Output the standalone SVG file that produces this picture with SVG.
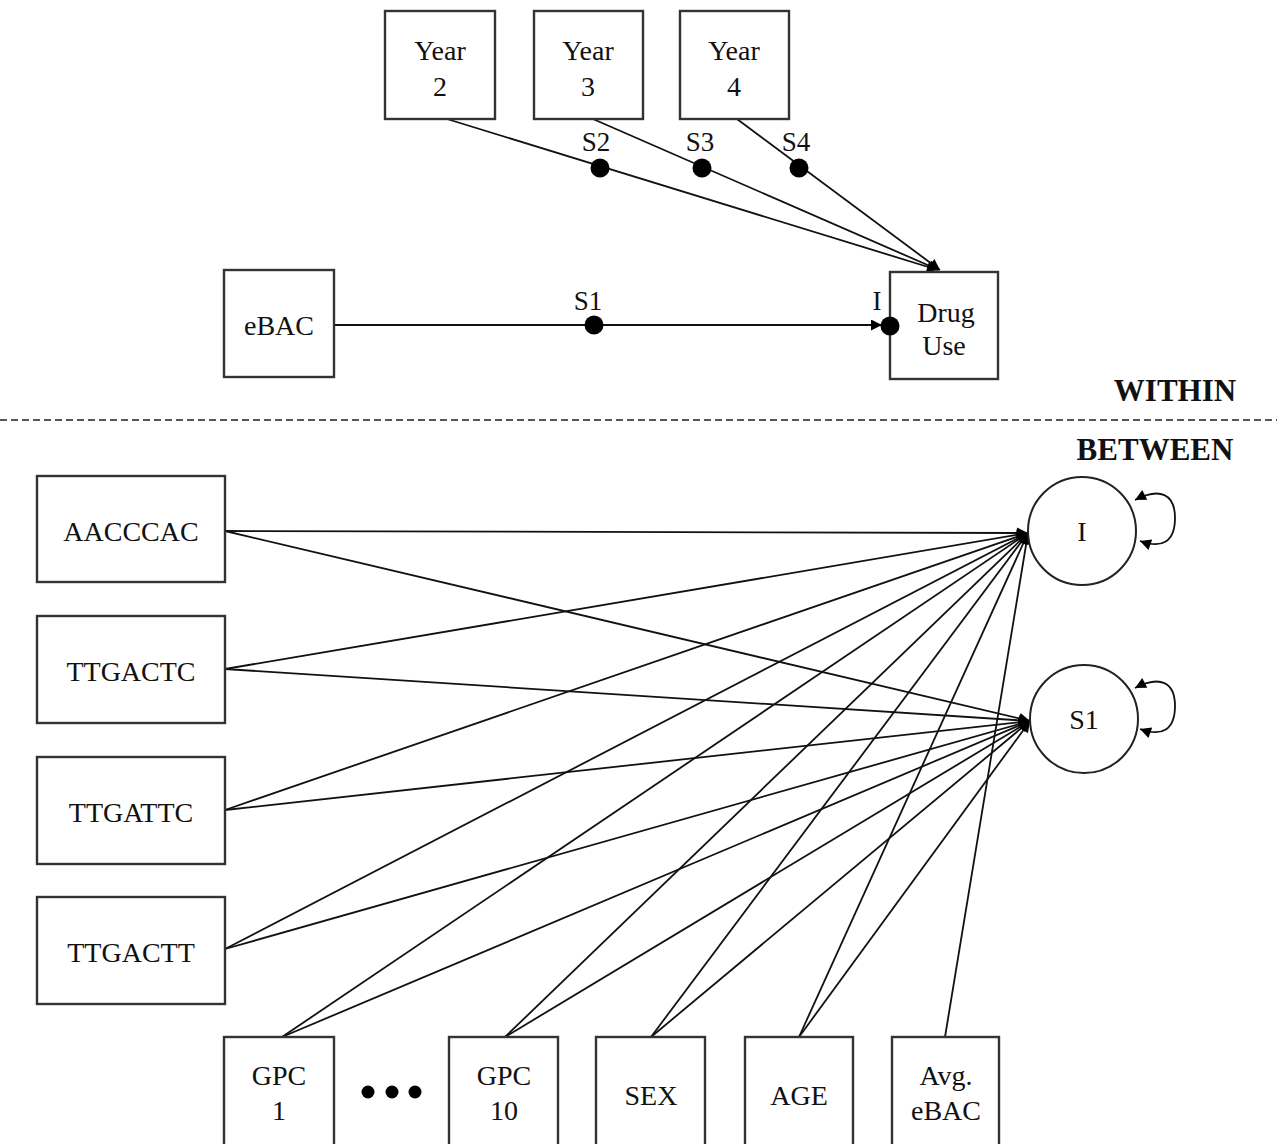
<svg xmlns="http://www.w3.org/2000/svg" width="1277" height="1144" viewBox="0 0 1277 1144">
<style>
.box{fill:#fff;stroke:#333;stroke-width:2.4}
.t{font-family:"Liberation Serif",serif;font-size:28px;fill:#111;text-anchor:middle}
.lbl{font-family:"Liberation Serif",serif;font-size:27px;fill:#111;text-anchor:middle}
.hd{font-family:"Liberation Serif",serif;font-size:31px;font-weight:bold;fill:#111;text-anchor:middle}
.e{stroke:#111;stroke-width:1.8;fill:none}
.dot{fill:#000}
</style>
<defs>
<marker id="ah" viewBox="0 0 10 10" refX="10" refY="5" markerWidth="13" markerHeight="11" markerUnits="userSpaceOnUse" orient="auto-start-reverse">
<path d="M0,0 L10,5 L0,10 Z" fill="#000"/>
</marker>
</defs>
<rect width="1277" height="1144" fill="#fff"/>

<g id="connectors">
<line class="e" x1="447" y1="119" x2="938" y2="270" marker-end="url(#ah)"/>
<line class="e" x1="593" y1="119" x2="939" y2="270" marker-end="url(#ah)"/>
<line class="e" x1="737" y1="119" x2="940" y2="270" marker-end="url(#ah)"/>
<circle class="dot" cx="600" cy="168" r="9.5"/>
<circle class="dot" cx="702" cy="168" r="9.5"/>
<circle class="dot" cx="799" cy="168" r="9.5"/>
<text class="lbl" x="596" y="151">S2</text>
<text class="lbl" x="700" y="151">S3</text>
<text class="lbl" x="796" y="151">S4</text>
<line class="e" x1="334" y1="325" x2="882" y2="325" marker-end="url(#ah)"/>
<circle class="dot" cx="594" cy="325" r="9.5"/>
<text class="lbl" x="588" y="310">S1</text>
<text class="lbl" x="877" y="310">I</text>

<line class="e" x1="225" y1="531" x2="1028" y2="533" marker-end="url(#ah)"/>
<line class="e" x1="225" y1="531" x2="1030" y2="721" marker-end="url(#ah)"/>
<line class="e" x1="225" y1="669" x2="1028" y2="533" marker-end="url(#ah)"/>
<line class="e" x1="225" y1="669" x2="1030" y2="721" marker-end="url(#ah)"/>
<line class="e" x1="225" y1="810" x2="1028" y2="533" marker-end="url(#ah)"/>
<line class="e" x1="225" y1="810" x2="1030" y2="721" marker-end="url(#ah)"/>
<line class="e" x1="225" y1="949" x2="1028" y2="533" marker-end="url(#ah)"/>
<line class="e" x1="225" y1="949" x2="1030" y2="721" marker-end="url(#ah)"/>
<line class="e" x1="282" y1="1037" x2="1028" y2="533" marker-end="url(#ah)"/>
<line class="e" x1="282" y1="1037" x2="1030" y2="721" marker-end="url(#ah)"/>
<line class="e" x1="505" y1="1037" x2="1028" y2="533" marker-end="url(#ah)"/>
<line class="e" x1="505" y1="1037" x2="1030" y2="721" marker-end="url(#ah)"/>
<line class="e" x1="651" y1="1037" x2="1028" y2="533" marker-end="url(#ah)"/>
<line class="e" x1="651" y1="1037" x2="1030" y2="721" marker-end="url(#ah)"/>
<line class="e" x1="799" y1="1037" x2="1028" y2="533" marker-end="url(#ah)"/>
<line class="e" x1="799" y1="1037" x2="1030" y2="721" marker-end="url(#ah)"/>
<line class="e" x1="945" y1="1037" x2="1028" y2="533" marker-end="url(#ah)"/>

<path class="e" d="M1135,500 C1160,487 1175,494 1175,518 C1175,542 1162,549 1140,541" marker-start="url(#ah)" marker-end="url(#ah)"/>
<path class="e" d="M1135,688 C1160,675 1175,682 1175,706 C1175,730 1162,737 1140,729" marker-start="url(#ah)" marker-end="url(#ah)"/>
</g>

<line x1="0" y1="420" x2="1277" y2="420" stroke="#555" stroke-width="2" stroke-dasharray="7,4"/>
<text class="hd" x="1175" y="401">WITHIN</text>
<text class="hd" x="1155" y="460">BETWEEN</text>

<g id="year2"><rect class="box" x="385" y="11" width="110" height="108"/><text class="t" x="440" y="60">Year</text><text class="t" x="440" y="96">2</text></g>
<g id="year3"><rect class="box" x="534" y="11" width="109" height="108"/><text class="t" x="588" y="60">Year</text><text class="t" x="588" y="96">3</text></g>
<g id="year4"><rect class="box" x="680" y="11" width="109" height="108"/><text class="t" x="734" y="60">Year</text><text class="t" x="734" y="96">4</text></g>
<g id="ebac"><rect class="box" x="224" y="270" width="110" height="107"/><text class="t" x="279" y="335">eBAC</text></g>
<g id="druguse"><rect class="box" x="890" y="272" width="108" height="107"/><text class="t" x="946" y="322">Drug</text><text class="t" x="944" y="355">Use</text></g>
<circle class="dot" cx="890" cy="326" r="9.5"/>

<g id="aacccac"><rect class="box" x="37" y="476" width="188" height="106"/><text class="t" x="131" y="541">AACCCAC</text></g>
<g id="ttgactc"><rect class="box" x="37" y="616" width="188" height="107"/><text class="t" x="131" y="681">TTGACTC</text></g>
<g id="ttgattc"><rect class="box" x="37" y="757" width="188" height="107"/><text class="t" x="131" y="822">TTGATTC</text></g>
<g id="ttgactt"><rect class="box" x="37" y="897" width="188" height="107"/><text class="t" x="131" y="962">TTGACTT</text></g>

<g id="latI"><circle cx="1082" cy="531" r="54" fill="#fff" stroke="#222" stroke-width="2"/><text class="t" x="1082" y="541">I</text></g>
<g id="latS1"><circle cx="1084" cy="719" r="54" fill="#fff" stroke="#222" stroke-width="2"/><text class="t" x="1084" y="729">S1</text></g>

<g id="gpc1"><rect class="box" x="224" y="1037" width="110" height="120"/><text class="t" x="279" y="1085">GPC</text><text class="t" x="279" y="1120">1</text></g>
<g id="ellipsis"><circle class="dot" cx="368" cy="1092" r="6.5"/><circle class="dot" cx="392" cy="1092" r="6.5"/><circle class="dot" cx="415" cy="1092" r="6.5"/></g>
<g id="gpc10"><rect class="box" x="449" y="1037" width="109" height="120"/><text class="t" x="504" y="1085">GPC</text><text class="t" x="504" y="1120">10</text></g>
<g id="sex"><rect class="box" x="596" y="1037" width="109" height="120"/><text class="t" x="651" y="1105">SEX</text></g>
<g id="age"><rect class="box" x="745" y="1037" width="108" height="120"/><text class="t" x="799" y="1105">AGE</text></g>
<g id="avgebac"><rect class="box" x="892" y="1037" width="107" height="120"/><text class="t" x="946" y="1085">Avg.</text><text class="t" x="946" y="1120">eBAC</text></g>
</svg>
